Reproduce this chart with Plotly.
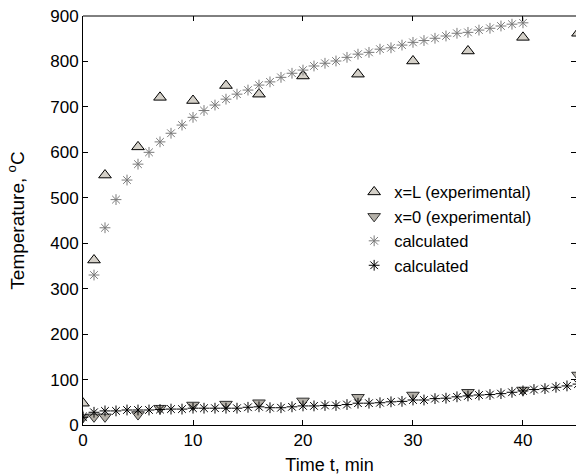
import plotly.graph_objects as go

# Experimental times (min)
t_exp = [0, 1, 2, 5, 7, 10, 13, 16, 20, 25, 30, 35, 40, 45]
# x=L experimental temperatures
T_L_exp = [48, 363, 550, 612, 721, 714, 747, 728, 768, 772, 801, 823, 853, 862]
# x=0 experimental temperatures
T_0_exp = [17, 18, 18, 23, 37, 44, 46, 49, 53, 61, 66, 72, 77, 110]

# calculated, x=L (one per minute, 0..40)
t_calc_L = list(range(0, 41))
T_L_calc = [20, 330, 434, 496, 539, 574, 600, 623, 642, 660, 677, 692, 704, 717, 728, 737,
            748, 755, 765, 774, 781, 790, 796, 801, 809, 816, 820, 827, 830, 836, 842,
            846, 851, 856, 862, 864, 869, 873, 878, 882, 885]

# calculated, x=0 (one per minute, 0..45)
t_calc_0 = list(range(0, 46))
T_0_calc = [17, 28, 31, 31, 33, 33, 33, 34, 35, 35, 37, 37, 37, 37, 37, 39, 40, 38, 38, 40,
            42, 42, 43, 43, 45, 48, 48, 49, 51, 52, 55, 55, 58, 59, 62, 64, 66, 67, 69, 72,
            75, 78, 80, 83, 86, 90]

x_ticks = [0, 10, 20, 30, 40]
y_ticks = [0, 100, 200, 300, 400, 500, 600, 700, 800, 900]

FONT = "Liberation Sans, Arial, sans-serif"

fig = go.Figure()
fig.add_trace(go.Scatter(
    x=t_exp, y=T_L_exp, mode="markers", name="x=L (experimental)",
    marker=dict(symbol="triangle-up", size=11, color="#d4d0c8",
                line=dict(color="#000000", width=1))))
fig.add_trace(go.Scatter(
    x=t_exp, y=T_0_exp, mode="markers", name="x=0 (experimental)",
    marker=dict(symbol="triangle-down", size=11, color="#b4b0a8",
                line=dict(color="#303030", width=1))))
fig.add_trace(go.Scatter(
    x=t_calc_L, y=T_L_calc, mode="markers", name="calculated",
    marker=dict(symbol="asterisk-open", size=9, color="#7a7a7a",
                line=dict(color="#7a7a7a", width=1))))
fig.add_trace(go.Scatter(
    x=t_calc_0, y=T_0_calc, mode="markers", name="calculated",
    marker=dict(symbol="asterisk-open", size=9, color="#000000",
                line=dict(color="#000000", width=1))))

xr = [0, 44.82]
yr = [0, 900]

fig.update_layout(
    width=576, height=475,
    margin=dict(l=83, r=0, t=16, b=50),
    paper_bgcolor="white", plot_bgcolor="white",
    font=dict(family=FONT, size=17, color="black"),
    showlegend=True,
    legend=dict(x=0.55, y=0.612, xanchor="left", yanchor="top",
                bgcolor="rgba(0,0,0,0)", borderwidth=0,
                font=dict(family=FONT, size=16.5, color="black"),
                traceorder="normal"),
    xaxis=dict(range=xr, tickmode="array", tickvals=x_ticks, ticks="inside", ticklen=5,
               tickcolor="black", showline=True, linecolor="black", linewidth=1,
               showgrid=False, zeroline=False, tickfont=dict(size=17),
               title=dict(text="Time t, min", standoff=8, font=dict(size=18))),
    yaxis=dict(range=yr, tickmode="array", tickvals=y_ticks, ticks="inside", ticklen=5,
               tickcolor="black", showline=True, linecolor="black", linewidth=1,
               showgrid=False, zeroline=False, tickfont=dict(size=17),
               title=dict(text="Temperature, <sup>o</sup>C", standoff=20, font=dict(size=19))),
    xaxis2=dict(range=xr, overlaying="x", side="top", anchor="y", tickmode="array",
                tickvals=x_ticks, ticks="inside", ticklen=5, tickcolor="black",
                showticklabels=False, showline=False, showgrid=False, zeroline=False),
    yaxis2=dict(range=yr, overlaying="y", side="right", anchor="x", tickmode="array",
                tickvals=y_ticks, ticks="inside", ticklen=5, tickcolor="black",
                showticklabels=False, showline=False, showgrid=False, zeroline=False),
    shapes=[dict(type="line", xref="paper", yref="paper", x0=0, x1=1, y0=1, y1=1,
                 line=dict(color="black", width=1))],
)
# invisible trace so overlaying axes are drawn
fig.add_trace(go.Scatter(x=[None], y=[None], xaxis="x2", yaxis="y2", showlegend=False,
                         hoverinfo="skip"))

fig.write_html("out.html")
